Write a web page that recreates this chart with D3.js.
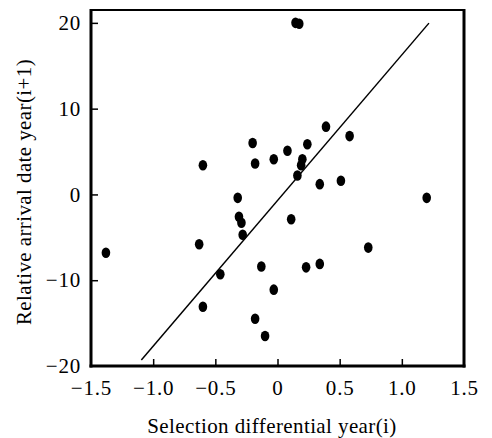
<!DOCTYPE html>
<html>
<head>
<meta charset="utf-8">
<script src="https://cdn.jsdelivr.net/npm/d3@7"></script>
<style>
  body { margin: 0; background: #fff; }
  svg { display: block; font-family: "Liberation Serif", "Times New Roman", serif; }
</style>
</head>
<body>
<svg id="chart" width="492" height="438"></svg>
<script>
"use strict";

// selection differential (year i) vs relative arrival date (year i+1)
const selDiff = [-1.38, -0.63, -0.60, -0.60, -0.46, -0.32, -0.31, -0.29, -0.28, -0.20, -0.18,
                 -0.18, -0.13, -0.10, -0.03, -0.03, 0.08, 0.11, 0.145, 0.175, 0.16, 0.19,
                 0.20, 0.23, 0.24, 0.34, 0.34, 0.39, 0.51, 0.58, 0.73, 1.20];
const arrival = [-6.8, -5.8, 3.4, -13.1, -9.3, -0.4, -2.6, -3.3, -4.7, 6.0, 3.6,
                 -14.5, -8.4, -16.5, 4.1, -11.1, 5.1, -2.9, 20.0, 19.9, 2.2, 3.4,
                 4.1, -8.5, 5.85, 1.2, -8.1, 7.9, 1.6, 6.8, -6.2, -0.4];
// regression line end points
const fitX = [-1.095, 1.218];
const fitY = [-19.3, 19.97];

const xTicks = [-1.5, -1.0, -0.5, 0, 0.5, 1.0, 1.5];
const yTicks = [-20, -10, 0, 10, 20];

const plotLeft = 91, plotRight = 464, plotTop = 10, plotBottom = 366;
const fontSize = 21;

const svg = d3.select("#chart");

const x = d3.scaleLinear().domain([-1.5, 1.5]).range([plotLeft, plotRight]);
const y = d3.scaleLinear().domain([-20, 21.5]).range([plotBottom, plotTop]);

function fmt(v) {
    let s = v === 0 ? "0" : Math.abs(v).toFixed(Number.isInteger(v) && Math.abs(v) >= 10 ? 0 : 1);
    return (v < 0 ? "\u2212" : "") + s;
}

// frame
svg.append("line").attr("x1", plotLeft).attr("x2", plotRight).attr("y1", plotTop).attr("y2", plotTop)
    .attr("stroke", "#000").attr("stroke-width", 2);
svg.append("line").attr("x1", plotRight).attr("x2", plotRight).attr("y1", plotTop - 1).attr("y2", plotBottom + 1.5)
    .attr("stroke", "#000").attr("stroke-width", 3);

// axes, ticks pointing inward
const yAxis = svg.append("g")
    .attr("transform", `translate(${plotLeft},0)`)
    .call(d3.axisLeft(y).tickValues(yTicks).tickSize(-7).tickPadding(17).tickFormat(fmt));
const xAxis = svg.append("g")
    .attr("transform", `translate(0,${plotBottom})`)
    .call(d3.axisBottom(x).tickValues(xTicks).tickSize(-7).tickPadding(14).tickFormat(fmt));

[xAxis, yAxis].forEach(g => {
    g.select(".domain").attr("stroke-width", 3);
    g.selectAll(".tick line").attr("stroke-width", 1.5);
    g.selectAll("text").attr("font-size", fontSize).attr("font-family", "Liberation Serif")
        .attr("fill", "#000").attr("letter-spacing", 0.8);
});
yAxis.select(".domain").attr("d", `M0,${plotTop - 1}V${plotBottom + 1.5}`);
xAxis.select(".domain").attr("d", `M${plotLeft - 1.5},0H${plotRight + 1.5}`);
yAxis.selectAll("text").attr("dx", 7);
xAxis.selectAll(".tick").filter(d => d === 1.5 || d === -1.5).select("line").remove();
yAxis.selectAll(".tick").filter(d => d === -20).select("line").remove();

// regression line
svg.append("path")
    .attr("d", d3.line()(fitX.map((v, i) => [x(v), y(fitY[i])])))
    .attr("stroke", "#000").attr("stroke-width", 1.5).attr("fill", "none");

// points
svg.append("g").selectAll("ellipse")
    .data(selDiff.map((v, i) => ({ x: v, y: arrival[i] })))
    .join("ellipse")
    .attr("cx", d => x(d.x))
    .attr("cy", d => y(d.y))
    .attr("rx", 4.3)
    .attr("ry", 5.3)
    .attr("fill", "#000");

// titles
svg.append("text")
    .attr("x", 272).attr("y", 433)
    .attr("text-anchor", "middle").attr("font-size", fontSize).attr("letter-spacing", 0.4)
    .text("Selection differential year(i)");
svg.append("text")
    .attr("transform", "translate(31,192) rotate(-90)")
    .attr("text-anchor", "middle").attr("font-size", fontSize).attr("letter-spacing", 0.4)
    .text("Relative arrival date year(i+1)");
</script>
</body>
</html>
